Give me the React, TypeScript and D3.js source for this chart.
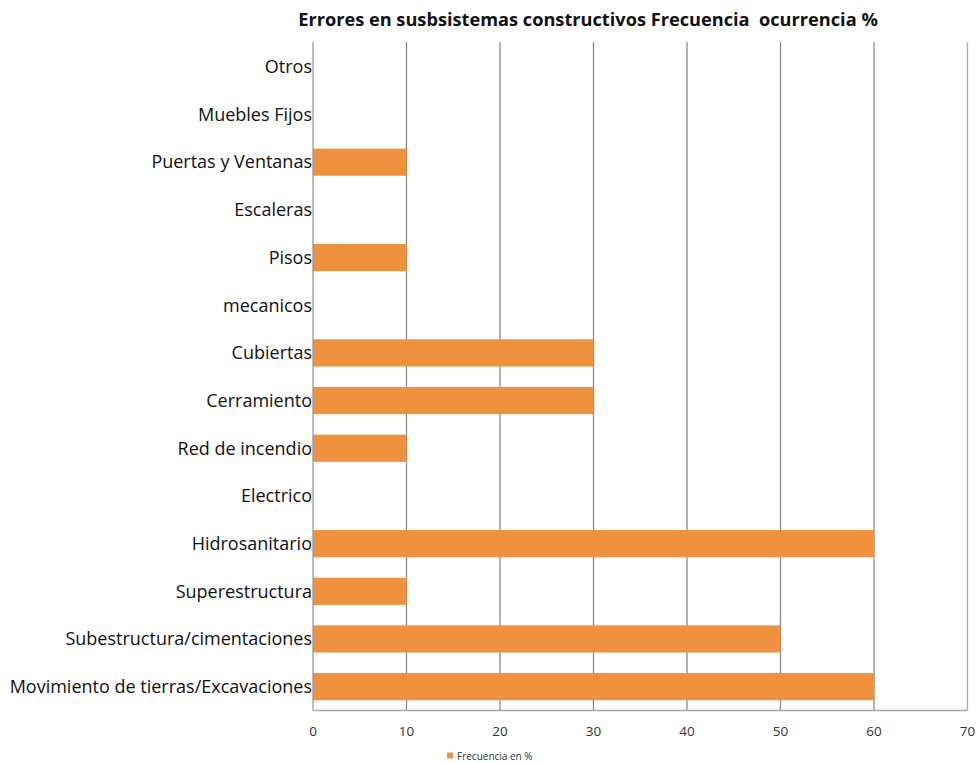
import React from "react";
import * as d3 from "d3";

const categories = [
  "Movimiento de tierras/Excavaciones",
  "Subestructura/cimentaciones",
  "Superestructura",
  "Hidrosanitario",
  "Electrico",
  "Red de incendio",
  "Cerramiento",
  "Cubiertas",
  "mecanicos",
  "Pisos",
  "Escaleras",
  "Puertas y Ventanas",
  "Muebles Fijos",
  "Otros",
];
const values = [60, 50, 10, 60, 0, 10, 30, 30, 0, 10, 0, 10, 0, 0];
const xTicks = [0, 10, 20, 30, 40, 50, 60, 70];
const title = "Errores en susbsistemas constructivos Frecuencia\u00a0 ocurrencia %";
const legendLabel = "Frecuencia en %";

export default function App() {
  const W = 980, H = 763;
  const left = 313, right = 967.5, top = 43, bottom = 710.5;
  const x = d3.scaleLinear().domain([0, 70]).range([left, right]);
  const y = d3
    .scaleBand<string>()
    .domain([...categories].reverse())
    .range([top, bottom])
    .paddingInner(0.43)
    .paddingOuter(0.215);
  const font = "'Open Sans', sans-serif";
  return (
    <svg width={W} height={H} style={{ position: "absolute", left: 0, top: 0, background: "#fff" }} fontFamily={font}>
      <rect x={0} y={0} width={W} height={H} fill="#fff" />
      <text x={588} y={26} textAnchor="middle" fontSize={18.2} fontWeight="bold" fill="#111">
        {title}
      </text>
      {xTicks.slice(1).map((t) => (
        <line key={t} x1={x(t)} x2={x(t)} y1={top - 1} y2={bottom} stroke={t === 70 ? "#aaa" : "#8a8a8a"} strokeWidth={1.3} />
      ))}
      {categories.map((c, i) => (
        <rect key={c} x={x(0)} y={y(c)!} width={x(values[i]) - x(0)} height={y.bandwidth()} fill="#F0913F" />
      ))}
      <line x1={left} x2={left} y1={top - 1} y2={bottom} stroke="#999" strokeWidth={1.3} />
      <line x1={left} x2={right} y1={bottom} y2={bottom} stroke="#aaa" strokeWidth={1.5} />
      {categories.map((c) => (
        <text key={c} x={left - 1} y={y(c)! + y.bandwidth() / 2} dy="0.35em" textAnchor="end" fontSize={18} fill="#111">
          {c}
        </text>
      ))}
      {xTicks.map((t) => (
        <text key={t} x={x(t)} y={736} textAnchor="middle" fontSize={13.5} fill="#333">
          {t}
        </text>
      ))}
      <rect x={447} y={752.5} width={6} height={6} fill="#F0913F" />
      <text x={457} y={759.5} fontSize={10} fill="#333">
        {legendLabel}
      </text>
    </svg>
  );
}
